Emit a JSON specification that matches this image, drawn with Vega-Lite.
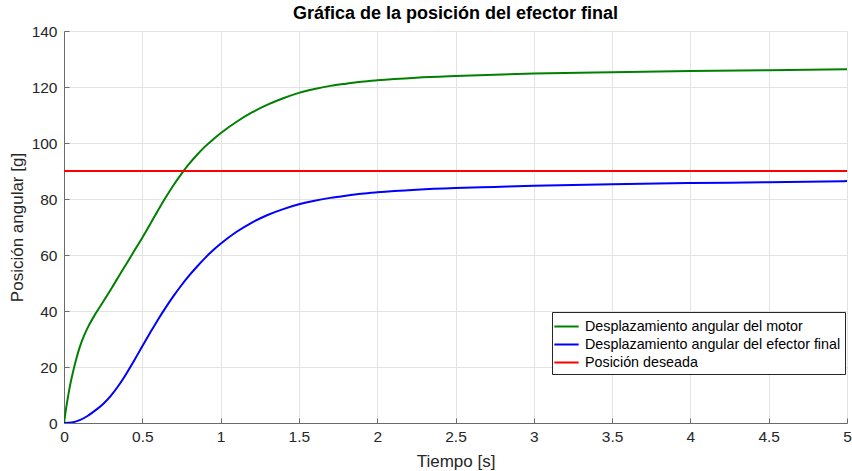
{
  "$schema": "https://vega.github.io/schema/vega-lite/v6.json",
  "width": 783,
  "height": 392,
  "autosize": {"type": "none"},
  "padding": {"left": 64, "top": 31, "right": 5, "bottom": 48},
  "background": "white",
  "config": {
    "font": "Liberation Sans",
    "view": {"stroke": null},
    "axis": {
      "labelFont": "Liberation Sans",
      "titleFont": "Liberation Sans",
      "labelFontSize": 15.5,
      "titleFontSize": 17,
      "titleFontWeight": "normal",
      "labelColor": "#262626",
      "titleColor": "#262626",
      "domainColor": "#6b6b6b",
      "tickColor": "#6b6b6b",
      "gridColor": "#e3e3e3",
      "gridWidth": 1,
      "tickSize": -5
    }
  },
  "title": {
    "text": "Gráfica de la posición del efector final",
    "fontSize": 18,
    "fontWeight": "bold",
    "font": "Liberation Sans",
    "color": "#000000",
    "offset": 1
  },
  "data": {
    "values": [
      {"t": 0, "v": 0, "s": "Desplazamiento angular del motor"},
      {"t": 0.01, "v": 4, "s": "Desplazamiento angular del motor"},
      {"t": 0.02, "v": 7.5, "s": "Desplazamiento angular del motor"},
      {"t": 0.04, "v": 13.8, "s": "Desplazamiento angular del motor"},
      {"t": 0.06, "v": 18.8, "s": "Desplazamiento angular del motor"},
      {"t": 0.08, "v": 23.2, "s": "Desplazamiento angular del motor"},
      {"t": 0.1, "v": 27, "s": "Desplazamiento angular del motor"},
      {"t": 0.13, "v": 31.5, "s": "Desplazamiento angular del motor"},
      {"t": 0.16, "v": 35, "s": "Desplazamiento angular del motor"},
      {"t": 0.2, "v": 38.9, "s": "Desplazamiento angular del motor"},
      {"t": 0.25, "v": 43.3, "s": "Desplazamiento angular del motor"},
      {"t": 0.3, "v": 47.8, "s": "Desplazamiento angular del motor"},
      {"t": 0.35, "v": 52.4, "s": "Desplazamiento angular del motor"},
      {"t": 0.4, "v": 57, "s": "Desplazamiento angular del motor"},
      {"t": 0.45, "v": 61.6, "s": "Desplazamiento angular del motor"},
      {"t": 0.5, "v": 66.2, "s": "Desplazamiento angular del motor"},
      {"t": 0.55, "v": 71, "s": "Desplazamiento angular del motor"},
      {"t": 0.6, "v": 75.9, "s": "Desplazamiento angular del motor"},
      {"t": 0.65, "v": 80.6, "s": "Desplazamiento angular del motor"},
      {"t": 0.7, "v": 85, "s": "Desplazamiento angular del motor"},
      {"t": 0.75, "v": 89, "s": "Desplazamiento angular del motor"},
      {"t": 0.8, "v": 92.6, "s": "Desplazamiento angular del motor"},
      {"t": 0.85, "v": 95.8, "s": "Desplazamiento angular del motor"},
      {"t": 0.9, "v": 98.7, "s": "Desplazamiento angular del motor"},
      {"t": 0.95, "v": 101.2, "s": "Desplazamiento angular del motor"},
      {"t": 1.0, "v": 103.5, "s": "Desplazamiento angular del motor"},
      {"t": 1.1, "v": 107.5, "s": "Desplazamiento angular del motor"},
      {"t": 1.2, "v": 110.9, "s": "Desplazamiento angular del motor"},
      {"t": 1.3, "v": 113.7, "s": "Desplazamiento angular del motor"},
      {"t": 1.4, "v": 116.0, "s": "Desplazamiento angular del motor"},
      {"t": 1.5, "v": 117.9, "s": "Desplazamiento angular del motor"},
      {"t": 1.6, "v": 119.3, "s": "Desplazamiento angular del motor"},
      {"t": 1.7, "v": 120.4, "s": "Desplazamiento angular del motor"},
      {"t": 1.8, "v": 121.2, "s": "Desplazamiento angular del motor"},
      {"t": 1.9, "v": 121.9, "s": "Desplazamiento angular del motor"},
      {"t": 2.0, "v": 122.4, "s": "Desplazamiento angular del motor"},
      {"t": 2.25, "v": 123.3, "s": "Desplazamiento angular del motor"},
      {"t": 2.5, "v": 123.9, "s": "Desplazamiento angular del motor"},
      {"t": 2.75, "v": 124.4, "s": "Desplazamiento angular del motor"},
      {"t": 3.0, "v": 124.8, "s": "Desplazamiento angular del motor"},
      {"t": 3.5, "v": 125.3, "s": "Desplazamiento angular del motor"},
      {"t": 4.0, "v": 125.7, "s": "Desplazamiento angular del motor"},
      {"t": 4.5, "v": 126.0, "s": "Desplazamiento angular del motor"},
      {"t": 5.0, "v": 126.3, "s": "Desplazamiento angular del motor"},
      {"t": 0, "v": 0, "s": "Desplazamiento angular del efector final"},
      {"t": 0.05, "v": 0.2, "s": "Desplazamiento angular del efector final"},
      {"t": 0.1, "v": 1, "s": "Desplazamiento angular del efector final"},
      {"t": 0.15, "v": 2.5, "s": "Desplazamiento angular del efector final"},
      {"t": 0.2, "v": 4.5, "s": "Desplazamiento angular del efector final"},
      {"t": 0.25, "v": 6.8, "s": "Desplazamiento angular del efector final"},
      {"t": 0.3, "v": 9.8, "s": "Desplazamiento angular del efector final"},
      {"t": 0.35, "v": 13.5, "s": "Desplazamiento angular del efector final"},
      {"t": 0.4, "v": 17.8, "s": "Desplazamiento angular del efector final"},
      {"t": 0.45, "v": 22.5, "s": "Desplazamiento angular del efector final"},
      {"t": 0.5, "v": 27.4, "s": "Desplazamiento angular del efector final"},
      {"t": 0.55, "v": 32.2, "s": "Desplazamiento angular del efector final"},
      {"t": 0.6, "v": 36.9, "s": "Desplazamiento angular del efector final"},
      {"t": 0.65, "v": 41.3, "s": "Desplazamiento angular del efector final"},
      {"t": 0.7, "v": 45.4, "s": "Desplazamiento angular del efector final"},
      {"t": 0.75, "v": 49.2, "s": "Desplazamiento angular del efector final"},
      {"t": 0.8, "v": 52.7, "s": "Desplazamiento angular del efector final"},
      {"t": 0.85, "v": 55.9, "s": "Desplazamiento angular del efector final"},
      {"t": 0.9, "v": 58.9, "s": "Desplazamiento angular del efector final"},
      {"t": 0.95, "v": 61.6, "s": "Desplazamiento angular del efector final"},
      {"t": 1.0, "v": 64.0, "s": "Desplazamiento angular del efector final"},
      {"t": 1.1, "v": 68.2, "s": "Desplazamiento angular del efector final"},
      {"t": 1.2, "v": 71.6, "s": "Desplazamiento angular del efector final"},
      {"t": 1.3, "v": 74.3, "s": "Desplazamiento angular del efector final"},
      {"t": 1.4, "v": 76.4, "s": "Desplazamiento angular del efector final"},
      {"t": 1.5, "v": 78.1, "s": "Desplazamiento angular del efector final"},
      {"t": 1.6, "v": 79.4, "s": "Desplazamiento angular del efector final"},
      {"t": 1.7, "v": 80.4, "s": "Desplazamiento angular del efector final"},
      {"t": 1.8, "v": 81.2, "s": "Desplazamiento angular del efector final"},
      {"t": 1.9, "v": 81.9, "s": "Desplazamiento angular del efector final"},
      {"t": 2.0, "v": 82.4, "s": "Desplazamiento angular del efector final"},
      {"t": 2.25, "v": 83.3, "s": "Desplazamiento angular del efector final"},
      {"t": 2.5, "v": 83.9, "s": "Desplazamiento angular del efector final"},
      {"t": 2.75, "v": 84.3, "s": "Desplazamiento angular del efector final"},
      {"t": 3.0, "v": 84.7, "s": "Desplazamiento angular del efector final"},
      {"t": 3.5, "v": 85.3, "s": "Desplazamiento angular del efector final"},
      {"t": 4.0, "v": 85.7, "s": "Desplazamiento angular del efector final"},
      {"t": 4.5, "v": 86.0, "s": "Desplazamiento angular del efector final"},
      {"t": 5.0, "v": 86.4, "s": "Desplazamiento angular del efector final"},
      {"t": 0, "v": 90, "s": "Posición deseada"},
      {"t": 5, "v": 90, "s": "Posición deseada"}
    ]
  },
  "mark": {"type": "line", "strokeWidth": 2, "clip": true, "interpolate": "monotone"},
  "encoding": {
    "x": {
      "field": "t",
      "type": "quantitative",
      "scale": {"domain": [0, 5], "nice": false, "zero": false},
      "axis": {
        "title": "Tiempo [s]",
        "values": [0, 0.5, 1, 1.5, 2, 2.5, 3, 3.5, 4, 4.5, 5],
        "format": "~g",
        "labelPadding": 11,
        "titlePadding": 9,
        "labelFlush": false
      }
    },
    "y": {
      "field": "v",
      "type": "quantitative",
      "scale": {"domain": [0, 140], "nice": false},
      "axis": {
        "title": "Posición angular [g]",
        "values": [0, 20, 40, 60, 80, 100, 120, 140],
        "labelPadding": 12,
        "titlePadding": 5,
        "labelFlush": false
      }
    },
    "color": {
      "field": "s",
      "type": "nominal",
      "sort": ["Desplazamiento angular del motor", "Desplazamiento angular del efector final", "Posición deseada"],
      "scale": {
        "domain": ["Desplazamiento angular del motor", "Desplazamiento angular del efector final", "Posición deseada"],
        "range": ["#008000", "#0000ff", "#ff0000"]
      },
      "legend": {
        "title": null,
        "orient": "none",
        "legendX": 488,
        "legendY": 281,
        "symbolType": "M-1.3,0H1.3",
        "symbolSize": 350,
        "symbolStrokeWidth": 2,
        "symbolFillColor": "transparent",
        "labelFontSize": 14.3,
        "labelFont": "Liberation Sans",
        "labelColor": "#000000",
        "labelOffset": 8,
        "rowPadding": 0,
        "padding": 4,
        "strokeColor": "#262626",
        "fillColor": "white",
        "labelLimit": 400
      }
    }
  }
}
